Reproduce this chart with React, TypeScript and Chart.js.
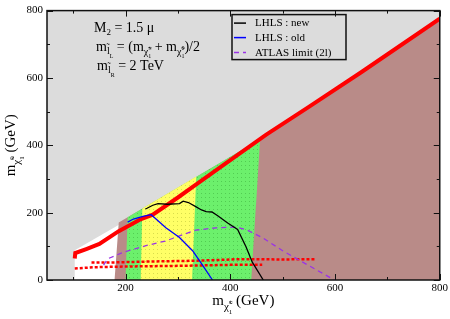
import React, { useEffect, useRef } from "react";
import { Chart, registerables } from "chart.js";
Chart.register(...registerables);

const X_MIN = 50;
const X_MAX = 800;
const Y_MIN = 0;
const Y_MAX = 800;
const xTickValues = [100, 200, 300, 400, 500, 600, 700, 800];
const xLabelValues = [200, 400, 600, 800];
const yTickValues = [0, 100, 200, 300, 400, 500, 600, 700, 800];
const yLabelValues = [0, 200, 400, 600, 800];

// shaded regions (polygons)
const whiteX = [103, 103, 190, 181];
const whiteY = [0, 88, 166, 0];
const brownX = [179, 187, 457, 800, 800];
const brownY = [0, 171, 418, 770, 0];
const greenX = [200, 204, 457, 440];
const greenY = [0, 186, 418, 0];
const yellowX = [229, 232, 335, 327];
const yellowY = [0, 212, 307, 0];

// red scan points
const bandX = [103, 104, 125, 150, 187, 227, 252, 300, 335, 398, 468, 550, 650, 800];
const bandY = [64, 80, 92, 107, 145, 179, 194, 245, 284, 354, 431, 514, 617, 776];
const rowUpperX = [135, 170, 250, 330, 420, 500, 563];
const rowUpperY = [52, 52, 55, 57, 62, 61, 62];
const rowLowerX = [103, 140, 200, 300, 400, 461];
const rowLowerY = [34, 38, 40, 42, 45, 45];

// curves
const legendLabels = ["LHLS : new", "LHLS : old", "ATLAS limit (2l)"];
const blackX = [238, 241, 252, 262, 280, 303, 310, 320, 334, 345, 354, 365, 376, 395, 414, 430, 442, 463];
const blackY = [211, 213, 222, 227, 225, 227, 234, 230, 218, 208, 203, 202, 191, 169, 150, 99, 53, 0];
const blueX = [204, 215, 235, 249, 277, 303, 328, 347, 366];
const blueY = [172, 181, 190, 194, 155, 126, 87, 44, 0];
const purpleX = [158, 166, 195, 239, 277, 303, 334, 373, 411, 430, 461, 500, 544, 599];
const purpleY = [44, 63, 82, 102, 116, 131, 148, 155, 157, 150, 126, 87, 48, 0];

const FONT = "'Liberation Serif', 'Times New Roman', serif";
const COL_BG = "#dcdcdc";
const COL_BROWN = "#b98b88";
const COL_GREEN = "#6cf06c";
const COL_GREEN_DOT = "#52cc52";
const COL_YELLOW = "#ffff66";
const COL_YELLOW_DOT = "#d8dc4c";
const COL_RED = "#ff0000";
const COL_PURPLE = "#9a33e6";

const pts = (xs: number[], ys: number[]) => xs.map((x, i) => ({ x, y: ys[i] }));

function dotPattern(base: string, dot: string): CanvasPattern | string {
  const c = document.createElement("canvas");
  c.width = 4;
  c.height = 4;
  const g = c.getContext("2d");
  if (!g) return base;
  g.fillStyle = base;
  g.fillRect(0, 0, 4, 4);
  g.fillStyle = dot;
  g.fillRect(1, 1, 1, 1);
  const p = g.createPattern(c, "repeat");
  return p || base;
}

type Seg = { t: string; s: number; dy?: number; adv?: boolean };

function runWidth(ctx: CanvasRenderingContext2D, segs: Seg[]) {
  let w = 0;
  for (const g of segs) {
    ctx.font = `${g.s}px ${FONT}`;
    if (g.adv !== false) w += ctx.measureText(g.t).width;
  }
  return w;
}
function drawRun(ctx: CanvasRenderingContext2D, segs: Seg[], x: number, y: number) {
  let cx = x;
  for (const g of segs) {
    ctx.font = `${g.s}px ${FONT}`;
    ctx.fillText(g.t, cx, y + (g.dy || 0));
    if (g.adv !== false) cx += ctx.measureText(g.t).width;
  }
}

const line1: Seg[] = [
  { t: "M", s: 14 },
  { t: "2", s: 9, dy: 3 },
  { t: " = 1.5 \u03bc", s: 14 },
];
const line2: Seg[] = [
  { t: "m", s: 14 },
  { t: "l\u0303", s: 10, dy: 3 },
  { t: "L", s: 6, dy: 7 },
  { t: " = (m", s: 14 },
  { t: "\u03c7\u0303", s: 10, dy: 4 },
  { t: "\u00b1", s: 6, dy: -1, adv: false },
  { t: "1", s: 6, dy: 7 },
  { t: " + m", s: 14 },
  { t: "\u03c7\u0303", s: 10, dy: 4 },
  { t: "0", s: 6, dy: -1, adv: false },
  { t: "1", s: 6, dy: 7 },
  { t: ")/2", s: 14 },
];
const line3: Seg[] = [
  { t: "m", s: 14 },
  { t: "l\u0303", s: 10, dy: 3 },
  { t: "R", s: 6, dy: 7 },
  { t: " = 2 TeV", s: 14 },
];
const xTitle: Seg[] = [
  { t: "m", s: 15 },
  { t: "\u03c7\u0303", s: 11, dy: 5 },
  { t: "\u00b1", s: 7, dy: -1, adv: false },
  { t: "1", s: 7, dy: 9 },
  { t: " (GeV)", s: 15 },
];
const yTitle: Seg[] = [
  { t: "m", s: 15 },
  { t: "\u03c7\u0303", s: 11, dy: 5 },
  { t: "0", s: 7, dy: -1, adv: false },
  { t: "1", s: 7, dy: 9 },
  { t: " (GeV)", s: 15 },
];

const bgPlugin = {
  id: "bgPlugin",
  beforeDatasetsDraw(chart: any) {
    const { ctx, chartArea: a } = chart;
    ctx.save();
    ctx.fillStyle = COL_BG;
    ctx.fillRect(a.left, a.top, a.right - a.left, a.bottom - a.top);
    ctx.restore();
  },
};

const framePlugin = {
  id: "framePlugin",
  afterDraw(chart: any) {
    const { ctx, chartArea: a, scales } = chart;
    const xs = scales.x;
    const ys = scales.y;
    ctx.save();
    ctx.strokeStyle = "#111";
    ctx.lineWidth = 1.5;
    ctx.strokeRect(a.left, a.top, a.right - a.left, a.bottom - a.top);
    ctx.lineWidth = 1;
    ctx.beginPath();
    for (const v of xTickValues) {
      const px = Math.round(xs.getPixelForValue(v)) + 0.5;
      const len = xLabelValues.includes(v) ? 6 : 3;
      ctx.moveTo(px, a.bottom);
      ctx.lineTo(px, a.bottom - len);
      ctx.moveTo(px, a.top);
      ctx.lineTo(px, a.top + len);
    }
    for (const v of yTickValues) {
      const py = Math.round(ys.getPixelForValue(v)) + 0.5;
      const len = yLabelValues.includes(v) ? 6 : 3;
      ctx.moveTo(a.left, py);
      ctx.lineTo(a.left + len, py);
      ctx.moveTo(a.right, py);
      ctx.lineTo(a.right - len, py);
    }
    ctx.stroke();

    // annotation text
    ctx.fillStyle = "#000";
    ctx.textBaseline = "alphabetic";
    ctx.textAlign = "left";
    drawRun(ctx, line1, a.left + 47, a.top + 21);
    drawRun(ctx, line2, a.left + 49, a.top + 40);
    drawRun(ctx, line3, a.left + 50, a.top + 59);

    // axis titles
    const cx = (a.left + a.right) / 2;
    const wX = runWidth(ctx, xTitle);
    drawRun(ctx, xTitle, cx - wX / 2, 305);
    const cy = (a.top + a.bottom) / 2;
    const wY = runWidth(ctx, yTitle);
    ctx.save();
    ctx.translate(15, cy);
    ctx.rotate(-Math.PI / 2);
    drawRun(ctx, yTitle, -wY / 2, 0);
    ctx.restore();

    // legend
    const bl = a.left + 185;
    const bt = a.top + 4;
    ctx.lineWidth = 1.5;
    ctx.strokeStyle = "#111";
    ctx.strokeRect(bl, bt, 114, 45);
    const items = chart.data.datasets.filter((d: any) => d.inLegend);
    const offs = [8.5, 23, 38];
    items.forEach((d: any, i: number) => {
      const y = bt + offs[i];
      ctx.beginPath();
      ctx.strokeStyle = d.borderColor;
      ctx.lineWidth = 1.5;
      ctx.setLineDash(d.borderDash || []);
      ctx.moveTo(bl + 2, y);
      ctx.lineTo(bl + 14, y);
      ctx.stroke();
      ctx.setLineDash([]);
      ctx.fillStyle = "#000";
      ctx.font = `11px ${FONT}`;
      ctx.textBaseline = "middle";
      ctx.fillText(d.label, bl + 23, y + 0.5);
    });
    ctx.restore();
  },
};

export default function App() {
  const ref = useRef<HTMLCanvasElement | null>(null);
  useEffect(() => {
    document.body.style.margin = "0";
    if (!ref.current) return;
    const region = (xs: number[], ys: number[], color: any, order: number) => ({
      data: pts(xs, ys),
      backgroundColor: color,
      borderColor: "rgba(0,0,0,0)",
      borderWidth: 0,
      fill: "shape",
      pointRadius: 0,
      order,
      tension: 0,
    });
    const curve = (xs: number[], ys: number[], color: string, width: number, order: number, extra: any = {}) => ({
      data: pts(xs, ys),
      borderColor: color,
      backgroundColor: color,
      borderWidth: width,
      fill: false,
      pointRadius: 0,
      order,
      tension: 0,
      ...extra,
    });
    const chart = new Chart(ref.current, {
      type: "line",
      data: {
        datasets: [
          region(whiteX, whiteY, "#ffffff", 20),
          region(brownX, brownY, COL_BROWN, 19),
          region(greenX, greenY, dotPattern(COL_GREEN, COL_GREEN_DOT), 18),
          region(yellowX, yellowY, dotPattern(COL_YELLOW, COL_YELLOW_DOT), 17),
          curve(bandX, bandY, COL_RED, 4, 10),
          curve(rowUpperX, rowUpperY, COL_RED, 2.5, 9, { borderDash: [3, 2] }),
          curve(rowLowerX, rowLowerY, COL_RED, 2.5, 8, { borderDash: [3, 2] }),
          curve(blackX, blackY, "#000000", 1.3, 3, { label: legendLabels[0], inLegend: true }),
          curve(blueX, blueY, "#0000ff", 1.3, 4, { label: legendLabels[1], inLegend: true }),
          curve(purpleX, purpleY, COL_PURPLE, 1.3, 5, { label: legendLabels[2], inLegend: true, borderDash: [5, 4] }),
        ] as any,
      },
      options: {
        animation: false,
        responsive: true,
        maintainAspectRatio: false,
        layout: { padding: { top: 5, right: 9, left: 0, bottom: 0 } },
        plugins: { legend: { display: false }, tooltip: { enabled: false } },
        scales: {
          x: {
            type: "linear",
            min: X_MIN,
            max: X_MAX,
            grid: { display: false, drawTicks: false },
            border: { display: false },
            afterBuildTicks: (s: any) => {
              s.ticks = xTickValues.map((v) => ({ value: v }));
            },
            afterFit: (s: any) => {
              s.height = 39;
            },
            ticks: {
              autoSkip: false,
              maxRotation: 0,
              padding: 2,
              color: "#000",
              font: { family: FONT, size: 11 },
              callback: (v: any) => (xLabelValues.includes(Number(v)) ? String(v) : ""),
            },
          },
          y: {
            type: "linear",
            min: Y_MIN,
            max: Y_MAX,
            grid: { display: false, drawTicks: false },
            border: { display: false },
            afterBuildTicks: (s: any) => {
              s.ticks = yTickValues.map((v) => ({ value: v }));
            },
            afterFit: (s: any) => {
              s.width = 47;
            },
            ticks: {
              autoSkip: false,
              padding: 4,
              color: "#000",
              font: { family: FONT, size: 11 },
              callback: (v: any) => (yLabelValues.includes(Number(v)) ? String(v) : ""),
            },
          },
        },
      } as any,
      plugins: [bgPlugin, framePlugin],
    });
    return () => chart.destroy();
  }, []);
  return (
    <div style={{ width: 450, height: 319, position: "relative" }}>
      <canvas ref={ref} />
    </div>
  );
}
